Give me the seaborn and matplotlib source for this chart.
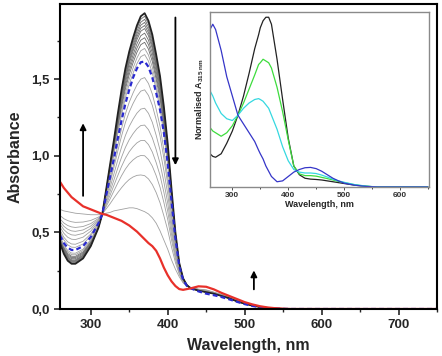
import numpy as np
import pandas as pd
import seaborn as sns
import matplotlib
matplotlib.use("Agg")
import matplotlib.pyplot as plt
from matplotlib.ticker import MultipleLocator, FuncFormatter

# --- data ---------------------------------------------------------------
wavelength = [260, 265, 270, 275, 280, 290, 300, 310, 315, 320, 325, 330, 335,
              340, 345, 350, 355, 360, 365, 370, 375, 380, 385, 390, 395, 400,
              405, 410, 415, 420, 425, 430, 440, 450, 460, 470, 480, 490, 500,
              510, 520, 530, 540, 550, 560, 600, 650, 700, 750]

# first spectrum (black)
abs_start = [0.43, 0.36, 0.315, 0.295, 0.295, 0.33, 0.41, 0.53, 0.62, 0.78, 0.94,
             1.10, 1.27, 1.43, 1.57, 1.68, 1.77, 1.85, 1.91, 1.93, 1.88, 1.79,
             1.66, 1.52, 1.32, 1.08, 0.78, 0.50, 0.30, 0.20, 0.155, 0.135, 0.12,
             0.11, 0.10, 0.085, 0.07, 0.05, 0.035, 0.022, 0.013, 0.007, 0.003,
             0.001, 0, 0, 0, 0, 0]

# highlighted intermediate spectrum (blue dashed)
abs_dashed = [0.48, 0.43, 0.40, 0.385, 0.385, 0.41, 0.47, 0.56, 0.62, 0.74, 0.86,
              0.98, 1.11, 1.23, 1.34, 1.43, 1.51, 1.57, 1.61, 1.615, 1.58, 1.51,
              1.41, 1.30, 1.15, 0.95, 0.70, 0.46, 0.28, 0.19, 0.15, 0.135, 0.115,
              0.10, 0.09, 0.078, 0.063, 0.047, 0.032, 0.02, 0.012, 0.006, 0.003,
              0.001, 0, 0, 0, 0, 0]

# last grey spectrum before the final one
abs_last_grey = [0.65, 0.64, 0.635, 0.63, 0.625, 0.62, 0.615, 0.615, 0.62, 0.625,
                 0.63, 0.64, 0.645, 0.65, 0.655, 0.66, 0.66, 0.655, 0.645, 0.635,
                 0.62, 0.595, 0.56, 0.51, 0.45, 0.39, 0.32, 0.26, 0.21, 0.17, 0.15,
                 0.14, 0.13, 0.125, 0.11, 0.095, 0.077, 0.058, 0.04, 0.026, 0.015,
                 0.008, 0.004, 0.001, 0, 0, 0, 0, 0]

# final spectrum (red)
abs_end = [0.83, 0.79, 0.76, 0.73, 0.71, 0.67, 0.65, 0.63, 0.62, 0.615, 0.605,
           0.595, 0.585, 0.575, 0.56, 0.545, 0.525, 0.505, 0.48, 0.455, 0.43, 0.41,
           0.38, 0.33, 0.27, 0.22, 0.18, 0.15, 0.13, 0.125, 0.13, 0.135, 0.148,
           0.145, 0.128, 0.105, 0.085, 0.065, 0.045, 0.03, 0.018, 0.01, 0.005,
           0.002, 0, 0, 0, 0, 0]

# band maxima of the other grey traces
grey_peaks = [1.91, 1.89, 1.87, 1.85, 1.83, 1.80, 1.77, 1.74, 1.70, 1.66,
              1.51, 1.43, 1.31, 1.20, 1.10, 1.00, 0.87]

# inset: normalised spectra
ins_wavelength = [260, 265, 270, 280, 290, 300, 310, 320, 330, 340, 347, 350, 355,
                  360, 365, 370, 380, 390, 400, 410, 420, 430, 440, 450, 460, 470,
                  480, 490, 500, 520, 540, 560, 600, 650]
ins_black = [0.19, 0.175, 0.17, 0.19, 0.25, 0.32, 0.41, 0.52, 0.65, 0.79, 0.87,
             0.91, 0.95, 0.97, 0.97, 0.93, 0.73, 0.50, 0.28, 0.12, 0.07, 0.05,
             0.045, 0.043, 0.04, 0.035, 0.03, 0.025, 0.02, 0.01, 0.004, 0, 0, 0]
ins_green = [0.34, 0.32, 0.31, 0.29, 0.31, 0.35, 0.41, 0.48, 0.56, 0.64, 0.70,
             0.71, 0.73, 0.72, 0.71, 0.68, 0.57, 0.43, 0.27, 0.12, 0.075, 0.065,
             0.065, 0.062, 0.055, 0.048, 0.04, 0.032, 0.025, 0.012, 0.004, 0, 0, 0]
ins_cyan = [0.55, 0.52, 0.48, 0.42, 0.39, 0.38, 0.41, 0.45, 0.48, 0.50, 0.505,
            0.50, 0.49, 0.47, 0.45, 0.41, 0.33, 0.23, 0.15, 0.10, 0.085, 0.08,
            0.08, 0.077, 0.068, 0.057, 0.045, 0.035, 0.027, 0.013, 0.005, 0, 0, 0]
ins_blue = [0.90, 0.93, 0.90, 0.78, 0.63, 0.52, 0.41, 0.36, 0.31, 0.26, 0.21,
            0.19, 0.16, 0.12, 0.09, 0.06, 0.03, 0.035, 0.06, 0.085, 0.10, 0.11,
            0.112, 0.105, 0.09, 0.07, 0.05, 0.035, 0.022, 0.01, 0.003, 0, 0, 0]

# --- style ---------------------------------------------------------------
sns.set_theme(style="ticks")
plt.rcParams["font.family"] = ["Liberation Sans", "DejaVu Sans"]
plt.rcParams["font.weight"] = "bold"

fig = plt.figure(figsize=(4.42, 3.56), dpi=100)
ax = fig.add_axes([60 / 442, 47 / 356, 377 / 442, 305 / 356])

wl = np.array(wavelength)
a0 = np.array(abs_start)
a1 = np.array(abs_last_grey)
ipk = int(np.argmax(a0))

# grey traces: each one a mixture of first and last grey spectrum, scaled to its read maximum
for pk in grey_peaks:
    w = (a0[ipk] - pk) / (a0[ipk] - a1[ipk])
    df = pd.DataFrame({"nm": wl, "A": (1 - w) * a0 + w * a1})
    shade = "#6a6a6a" if pk > 1.7 else "#a0a0a0"
    sns.lineplot(data=df, x="nm", y="A", color=shade, linewidth=0.6, ax=ax,
                 estimator=None, sort=False)

sns.lineplot(x=wl, y=a1, color="#a0a0a0", linewidth=0.6, ax=ax, estimator=None)
sns.lineplot(x=wl, y=a0, color="#222222", linewidth=1.3, ax=ax, estimator=None)
sns.lineplot(x=wl, y=np.array(abs_dashed), color="#2a2ad0", linewidth=1.6,
             linestyle=(0, (2.2, 1.4)), ax=ax, estimator=None)
sns.lineplot(x=wl, y=np.array(abs_end), color="#e8302a", linewidth=1.6, ax=ax,
             estimator=None)

ax.set_xlim(260, 750)
ax.set_ylim(0, 1.99)
ax.xaxis.set_major_locator(MultipleLocator(100))
ax.xaxis.set_minor_locator(MultipleLocator(50))
ax.yaxis.set_major_locator(MultipleLocator(0.5))
ax.yaxis.set_minor_locator(MultipleLocator(0.25))
ax.yaxis.set_major_formatter(FuncFormatter(lambda v, p: f"{v:.1f}".replace(".", ",")))
ax.tick_params(which="major", direction="out", length=4, width=1.2, labelsize=9.5)
ax.tick_params(which="minor", direction="out", length=2.5, width=1.0)
for sp in ax.spines.values():
    sp.set_linewidth(1.5)
    sp.set_color("black")
ax.set_xlabel("Wavelength, nm", fontsize=11.5, fontweight="bold", labelpad=5)
ax.set_ylabel("Absorbance", fontsize=11.5, fontweight="bold", labelpad=6)

arrow = dict(arrowstyle="-|>", color="black", lw=1.3, mutation_scale=9)
ax.annotate("", xy=(290, 1.23), xytext=(290, 0.72), arrowprops=arrow)
ax.annotate("", xy=(410, 0.92), xytext=(410, 1.92), arrowprops=arrow)
ax.annotate("", xy=(512, 0.27), xytext=(512, 0.11), arrowprops=arrow)

# --- inset ---------------------------------------------------------------
ins = fig.add_axes([210 / 442, 169 / 356, 219 / 442, 175 / 356])
iwl = np.array(ins_wavelength)
for vals, col in [(ins_black, "#222222"), (ins_green, "#3ddc3d"),
                  (ins_cyan, "#35d8e0"), (ins_blue, "#3535c8")]:
    sns.lineplot(x=iwl, y=np.array(vals), color=col, linewidth=0.9, ax=ins,
                 estimator=None)
ins.set_xlim(260, 652)
ins.set_ylim(0, 1.0)
ins.xaxis.set_major_locator(MultipleLocator(100))
ins.xaxis.set_minor_locator(MultipleLocator(50))
ins.set_yticks([])
ins.tick_params(axis="x", which="major", direction="out", length=2.2, width=0.6,
                labelsize=6, pad=1.5, colors="#333333")
ins.tick_params(axis="x", which="minor", direction="out", length=1.3, width=0.6)
for sp in ins.spines.values():
    sp.set_linewidth(1.0)
    sp.set_color("#8a8a8a")
ins.set_xlabel("Wavelength, nm", fontsize=6.5, fontweight="bold", labelpad=0.5)
ins.set_ylabel("Normalised A$_{\\mathregular{315\\ nm}}$", fontsize=6.5,
               fontweight="bold", labelpad=3)

fig.savefig("out.png", dpi=100)
